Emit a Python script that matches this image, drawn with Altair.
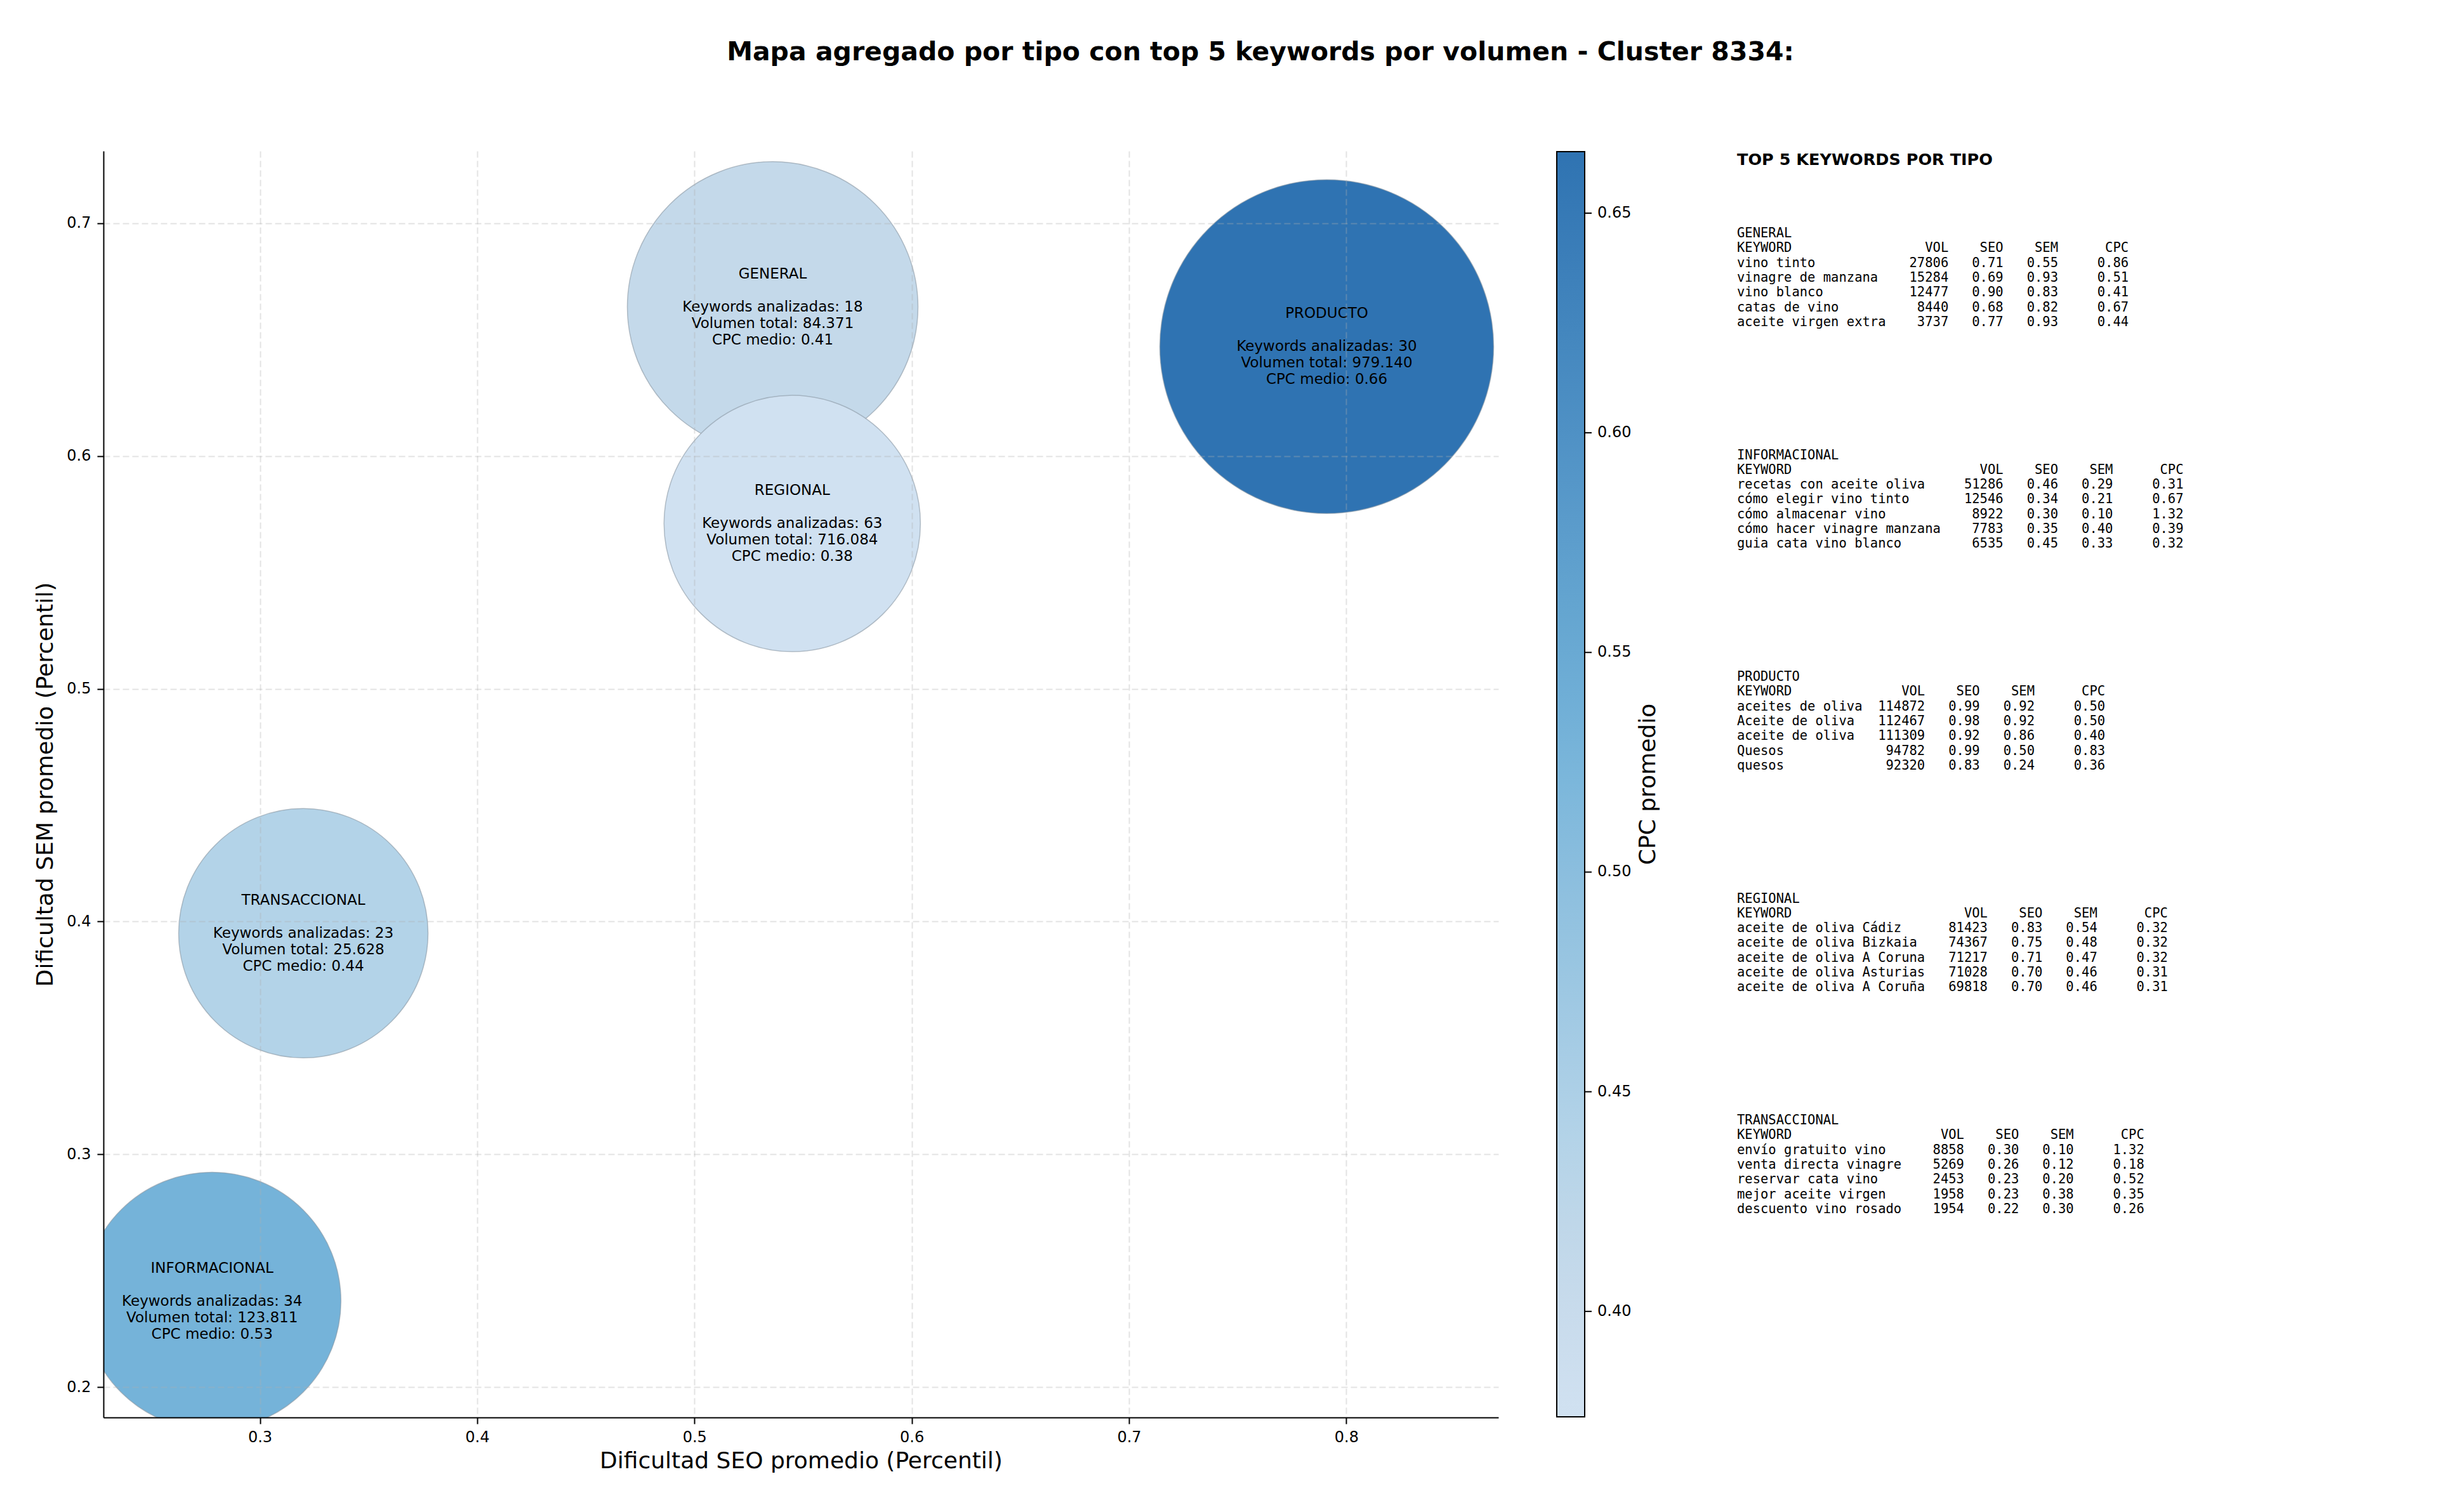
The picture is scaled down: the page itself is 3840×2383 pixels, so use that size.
import altair as alt
import pandas as pd

# ---------------- datos agregados por tipo ----------------
tipos = ["GENERAL", "INFORMACIONAL", "PRODUCTO", "REGIONAL", "TRANSACCIONAL"]
seo_medio = [0.536, 0.278, 0.791, 0.545, 0.320]
sem_medio = [0.664, 0.237, 0.647, 0.571, 0.395]
keywords_analizadas = [18, 34, 30, 63, 23]
volumen_total = [84371, 123811, 979140, 716084, 25628]
cpc_medio = [0.41, 0.53, 0.664, 0.376, 0.44]
tamano_relativo = [0.758, 0.596, 1.0, 0.590, 0.558]  # área relativa de cada burbuja

# ---------------- top 5 keywords por tipo ----------------
top_tipo = (["GENERAL"] * 5 + ["INFORMACIONAL"] * 5 + ["PRODUCTO"] * 5
            + ["REGIONAL"] * 5 + ["TRANSACCIONAL"] * 5)
top_keyword = [
    "vino tinto", "vinagre de manzana", "vino blanco", "catas de vino", "aceite virgen extra",
    "recetas con aceite oliva", "cómo elegir vino tinto", "cómo almacenar vino",
    "cómo hacer vinagre manzana", "guia cata vino blanco",
    "aceites de oliva", "Aceite de oliva", "aceite de oliva", "Quesos", "quesos",
    "aceite de oliva Cádiz", "aceite de oliva Bizkaia", "aceite de oliva A Coruna",
    "aceite de oliva Asturias", "aceite de oliva A Coruña",
    "envío gratuito vino", "venta directa vinagre", "reservar cata vino",
    "mejor aceite virgen", "descuento vino rosado",
]
top_vol = [27806, 15284, 12477, 8440, 3737,
           51286, 12546, 8922, 7783, 6535,
           114872, 112467, 111309, 94782, 92320,
           81423, 74367, 71217, 71028, 69818,
           8858, 5269, 2453, 1958, 1954]
top_seo = [0.71, 0.69, 0.90, 0.68, 0.77,
           0.46, 0.34, 0.30, 0.35, 0.45,
           0.99, 0.98, 0.92, 0.99, 0.83,
           0.83, 0.75, 0.71, 0.70, 0.70,
           0.30, 0.26, 0.23, 0.23, 0.22]
top_sem = [0.55, 0.93, 0.83, 0.82, 0.93,
           0.29, 0.21, 0.10, 0.40, 0.33,
           0.92, 0.92, 0.86, 0.50, 0.24,
           0.54, 0.48, 0.47, 0.46, 0.46,
           0.10, 0.12, 0.20, 0.38, 0.30]
top_cpc = [0.86, 0.51, 0.41, 0.67, 0.44,
           0.31, 0.67, 1.32, 0.39, 0.32,
           0.50, 0.50, 0.40, 0.83, 0.36,
           0.32, 0.32, 0.32, 0.31, 0.31,
           1.32, 0.18, 0.52, 0.35, 0.26]

x_ticks = [0.3, 0.4, 0.5, 0.6, 0.7, 0.8]
y_ticks = [0.2, 0.3, 0.4, 0.5, 0.6, 0.7]
cb_ticks = [0.40, 0.45, 0.50, 0.55, 0.60, 0.65]

titulo_txt = "Mapa agregado por tipo con top 5 keywords por volumen - Cluster 8334:"

# ---------------- tablas ----------------
NB = "\u00a0"
LH = 26  # interlineado de las etiquetas de burbuja


def fmt_vol(v):
    return f"{v:,}".replace(",", ".")


df = pd.DataFrame({
    "tipo": tipos,
    "seo": seo_medio,
    "sem": sem_medio,
    "cpc": cpc_medio,
    "peso": tamano_relativo,
})
df["stats"] = [
    [f"Keywords analizadas: {k}", f"Volumen total: {fmt_vol(v)}", f"CPC medio: {c:.2f}"]
    for k, v, c in zip(keywords_analizadas, volumen_total, cpc_medio)
]

filas = []
for i, t in enumerate(tipos):
    idx = [j for j, tt in enumerate(top_tipo) if tt == t]
    L = max(len(top_keyword[j]) for j in idx)
    base = 15 * i
    filas.append({"linea": base, "texto": t})
    cab = f"{'KEYWORD':<{L + 2}}{'VOL':>6}{'SEO':>7}{'SEM':>7}{'CPC':>9}"
    filas.append({"linea": base + 1, "texto": cab.replace(" ", NB)})
    for r, j in enumerate(idx):
        s = (f"{top_keyword[j]:<{L + 2}}{top_vol[j]:>6}{top_seo[j]:>7.2f}"
             f"{top_sem[j]:>7.2f}{top_cpc[j]:>9.2f}")
        filas.append({"linea": base + 2 + r, "texto": s.replace(" ", NB)})
panel_df = pd.DataFrame(filas)

# ---------------- escalas y ejes ----------------
W, H = 2198, 1996
xscale = alt.Scale(domain=[0.228, 0.870], nice=False, zero=False)
yscale = alt.Scale(domain=[0.187, 0.731], nice=False, zero=False)

cpc_sorted = sorted(cpc_medio)
color_scale = alt.Scale(
    domain=cpc_sorted,
    range=["#d0e1f1", "#c4d9ea", "#b3d3e8", "#75b3d9", "#2f73b2"],
)

axis_common = dict(
    labelFont="DejaVu Sans", labelFontSize=24, labelColor="black",
    titleFont="DejaVu Sans", titleFontSize=36, titleFontWeight="normal", titleColor="black",
    domainColor="black", domainWidth=2, tickColor="black", tickWidth=2, tickSize=10,
    grid=True, gridColor="#b0b0b0", gridOpacity=0.35, gridDash=[10, 5], gridWidth=2,
    format=".1f", zindex=1,
)
x_axis = alt.Axis(values=x_ticks, title="Dificultad SEO promedio (Percentil)",
                  labelPadding=9, titlePadding=8, **axis_common)
y_axis = alt.Axis(values=y_ticks, title="Dificultad SEM promedio (Percentil)",
                  labelPadding=10, titlePadding=14, **axis_common)

x_enc = alt.X("seo:Q", scale=xscale, axis=x_axis)
y_enc = alt.Y("sem:Q", scale=yscale, axis=y_axis)

burbujas = alt.Chart(df).mark_circle(
    clip=True, opacity=1, stroke="#8a97a3", strokeWidth=1.5, strokeOpacity=0.6
).encode(
    x=x_enc,
    y=y_enc,
    size=alt.Size("peso:Q", scale=alt.Scale(domain=[0, 1], range=[0, 526 ** 2], zero=True),
                  legend=None),
    color=alt.Color("cpc:Q", scale=color_scale,
                    legend=alt.Legend(
                        type="gradient", direction="vertical", orient="none",
                        legendX=2290, legendY=1, padding=0,
                        gradientLength=1994, gradientThickness=44,
                        gradientStrokeColor="black", gradientStrokeWidth=2,
                        labelFont="DejaVu Sans", labelFontSize=24, labelColor="black",
                        labelOffset=20, values=cb_ticks, format=".2f", title=None,
                    )),
    order=alt.Order("tipo:N"),
)

# nombre del tipo (dos líneas por encima del centro, con una línea en blanco)
nombres = alt.Chart(df).mark_text(
    font="DejaVu Sans", fontSize=23, color="black",
    align="center", baseline="middle", dy=-2 * LH,
).encode(x=x_enc, y=y_enc, text="tipo:N")

# bloque de estadísticas: la primera línea queda en el centro de la burbuja
stats = alt.Chart(df).mark_text(
    font="DejaVu Sans", fontSize=23, lineHeight=LH, color="black",
    align="center", baseline="middle",
).encode(x=x_enc, y=y_enc, text="stats")

principal = alt.layer(burbujas, nombres, stats)

# marcas de graduación de la barra de color (a la derecha del degradado)
cb_ticks_df = pd.DataFrame({"v": cb_ticks})
cb_marcas = alt.Chart(cb_ticks_df).mark_rule(color="black", strokeWidth=2).encode(
    x=alt.value(2335),
    x2=alt.value(2345),
    y=alt.Y("v:Q", scale=alt.Scale(domain=[min(cpc_medio), max(cpc_medio)],
                                   range=[1995, 1], nice=False, zero=False),
            axis=None),
)

panel_scale = alt.Scale(domain=[0, 1], range=[130, 153.3], nice=False, zero=False)

panel = alt.Chart(panel_df).mark_text(
    font="DejaVu Sans Mono", fontSize=20.5, color="black", align="left", baseline="middle",
).encode(
    x=alt.value(2574),
    y=alt.Y("linea:Q", scale=panel_scale, axis=None),
    text="texto:N",
)

cabecera = alt.Chart(pd.DataFrame({"linea": [-5], "texto": ["TOP 5 KEYWORDS POR TIPO"]})).mark_text(
    font="DejaVu Sans", fontSize=25.5, fontWeight="bold", color="black",
    align="left", baseline="middle",
).encode(
    x=alt.value(2574),
    y=alt.Y("linea:Q", scale=panel_scale, axis=None),
    text="texto:N",
)

cb_titulo = alt.Chart(pd.DataFrame({"t": ["CPC promedio"]})).mark_text(
    font="DejaVu Sans", fontSize=36, color="black", angle=270,
    align="center", baseline="middle",
).encode(x=alt.value(2434), y=alt.value(998), text="t:N")

titulo = alt.Chart(pd.DataFrame({"t": [titulo_txt]})).mark_text(
    font="DejaVu Sans", fontSize=41, fontWeight="bold", color="black",
    align="center", baseline="middle",
).encode(x=alt.value(1823), y=alt.value(-155), text="t:N")

chart = alt.layer(principal, cb_marcas, panel, cabecera, cb_titulo, titulo).resolve_scale(
    y="independent"
).properties(
    width=W, height=H,
    autosize=alt.AutoSizeParams(type="none"),
    padding={"left": 155, "top": 230, "right": 1460, "bottom": 130},
    background="white",
).configure_view(strokeWidth=0)

chart.save("out.html", embed_options={"renderer": "svg", "actions": False})
